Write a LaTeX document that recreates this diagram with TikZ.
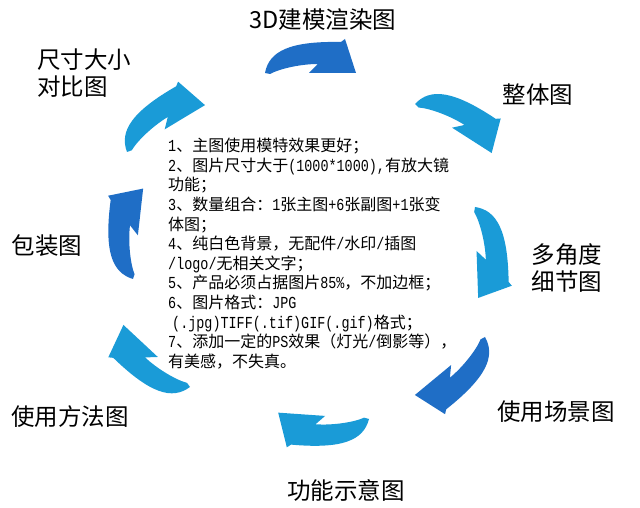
\documentclass[tikz,border=0pt]{standalone}
\usepackage{fontspec}
\setmainfont{Noto Sans CJK SC}
\newfontfamily\asc[Scale=1.05,FakeStretch=0.8]{Liberation Mono}
\newcommand{\ac}[1]{{\asc #1}}
\usetikzlibrary{positioning}

\definecolor{arrowdark}{HTML}{1F6EC6}
\definecolor{arrowlight}{HTML}{1A9BD7}

\begin{document}
\begin{tikzpicture}[x=1pt,y=1pt,
every node/.style={inner sep=0pt},
lbl/.style={font=\fontsize{23.5}{27}\selectfont,align=left},
cyc/.pic={\fill[pic actions] (0,0) .. controls (4,22) and (25,32) .. (76,31) -- (80,34) -- (91,0) -- (44,0) -- (53,9) .. controls (35,9) and (14,4) .. (5,-1) -- cycle;}]
\useasboundingbox (0,0) rectangle (640,508);
% arrows, clockwise from the top
\pic[fill=arrowdark] at (265,435) {cyc};
\pic[fill=arrowlight,rotate=-32.6] at (415,404) {cyc};
\pic[fill=arrowlight,rotate=-88] at (475,301) {cyc};
\pic[fill=arrowdark,rotate=-140.4] at (485,171) {cyc};
\pic[fill=arrowlight,rotate=176] at (369,89) {cyc};
\pic[fill=arrowlight,rotate=137] at (190,121) {cyc};
\pic[fill=arrowdark,rotate=83.6] at (133,229) {cyc};
\pic[fill=arrowlight,rotate=31] at (127,356) {cyc};
% labels
\node[lbl] (model) at (323,488) {3D建模渲染图};
\node[lbl] (whole) at (538,413) {整体图};
\node[lbl] (detail) at (567,240) {多角度\\细节图};
\node[lbl] (scene) at (556,96) {使用场景图};
\node[lbl] (func) at (346,18) {功能示意图};
\node[lbl] (method) at (70,91) {使用方法图};
\node[lbl] (pack) at (47,262) {包装图};
\node[lbl] (size) at (84,435) {尺寸大小\\对比图};
% rules in the middle
\node[anchor=north west,align=left,font=\fontsize{16}{19.6}\selectfont] (spec) at (168,370) {\ac{1}、主图使用模特效果更好；\\
\ac{2}、图片尺寸大于\ac{(1000*1000),}有放大镜\\
功能；\\
\ac{3}、数量组合：\ac{1}张主图\ac{+6}张副图\ac{+1}张变\\
体图；\\
\ac{4}、纯白色背景，无配件\ac{/}水印\ac{/}插图\\
\ac{/logo/}无相关文字；\\
\ac{5}、产品必须占据图片\ac{85\%}，不加边框；\\
\ac{6}、图片格式：\ac{JPG}\\
\ac{\hspace*{4pt}(.jpg)TIFF(.tif)GIF(.gif)}格式；\\
\ac{7}、添加一定的\ac{PS}效果（灯光\ac{/}倒影等），\\
有美感，不失真。};
\end{tikzpicture}
\end{document}
